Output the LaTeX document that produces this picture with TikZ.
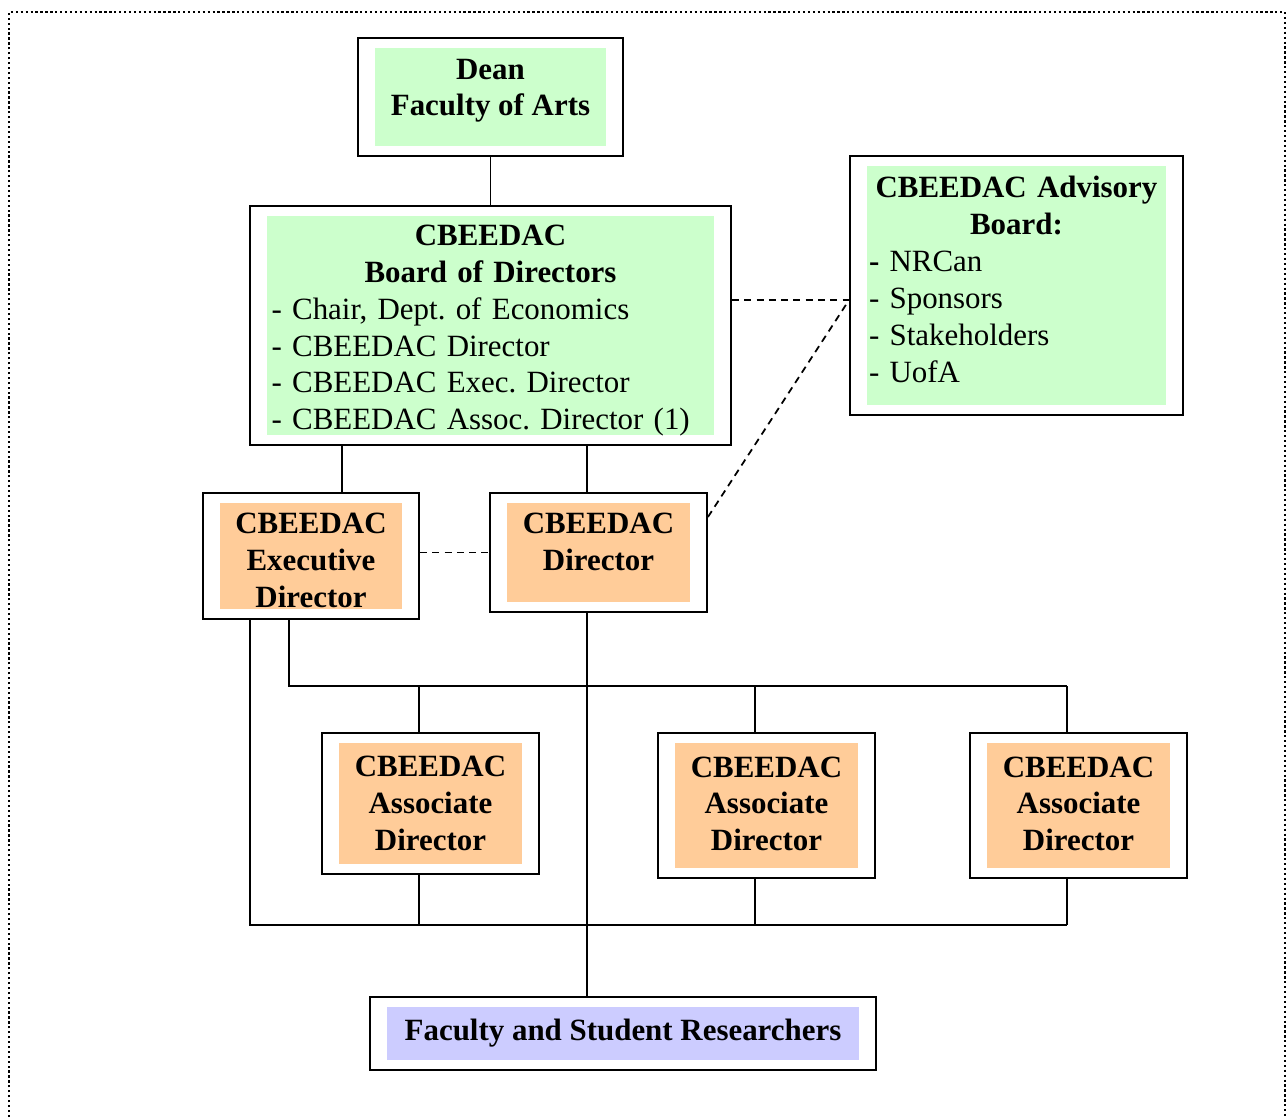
\documentclass[tikz,border=0pt]{standalone}
\usepackage{fontspec}
\setmainfont{Liberation Serif}
\usetikzlibrary{calc, positioning}
\definecolor{cgreen}{HTML}{CCFFCC}
\definecolor{corange}{HTML}{FFCC99}
\definecolor{cviolet}{HTML}{CCCCFF}
\frenchspacing
\newcommand{\lline}[1]{\makebox[\linewidth][l]{\mdseries #1}}
\newcommand{\dn}[1]{\rule[-#1]{0pt}{#1}}
\newcommand{\up}[1]{\rule{0pt}{#1}}

\begin{document}
\begin{tikzpicture}[x=0.02cm, y=-0.02cm,
    orgbox/.style={draw, line width=1.1pt, fill=white, align=center, inner sep=0pt,
        font=\fontsize{17.6}{21}\selectfont\bfseries,
        path picture={\fill[#1] ([shift={(0.34cm,-0.2cm)}]path picture bounding box.north west) rectangle ([shift={(-0.34cm,0.2cm)}]path picture bounding box.south east);}},
    link/.style={line width=1pt},
    dlink/.style={line width=1pt, dash pattern=on 4pt off 3pt}]
    \useasboundingbox (0,0) rectangle (1286,1117);
    \draw[line width=1.3pt, dash pattern=on 1.3pt off 1.5pt] (9,1117) -- (9,12) -- (1285,12) -- (1285,1117);
    % boxes
    \node (dean) [orgbox=cgreen, minimum width=5.3cm, minimum height=2.36cm] at (490.5,97) {Dean\\ Faculty of Arts\dn{11pt}};
    \node (board) [orgbox=cgreen, minimum width=9.62cm, minimum height=4.78cm, text width=8.76cm] at (490.5,325.5) {\up{17.5pt}CBEEDAC\\ Board of Directors\\
        \lline{- Chair, Dept. of Economics}\\ \lline{- CBEEDAC Director}\\ \lline{- CBEEDAC Exec. Director}\\ \lline{- CBEEDAC Assoc. Director (1)}};
    \node (advis) [orgbox=cgreen, minimum width=6.66cm, minimum height=5.18cm, text width=5.9cm] at (1016.5,285.5) {CBEEDAC Advisory\\ Board:\\
        \makebox[\linewidth][l]{- \mdseries NRCan}\\ \lline{- Sponsors}\\ \lline{- Stakeholders}\\ \lline{- UofA\dn{7pt}}};
    \node (exec) [orgbox=corange, minimum width=4.32cm, minimum height=2.52cm] at (311,556) {\up{16.5pt}CBEEDAC\\ Executive\\ Director};
    \node (dir) [orgbox=corange, minimum width=4.34cm, minimum height=2.38cm] at (598.5,552.5) {CBEEDAC\\ Director\dn{12.5pt}};
    \node (asc1) [orgbox=corange, minimum width=4.34cm, minimum height=2.82cm] at (430.5,803.5) {CBEEDAC\\ Associate\\ Director};
    \node (asc2) [orgbox=corange, minimum width=4.34cm, minimum height=2.9cm] at (766.5,805.5) {CBEEDAC\\ Associate\\ Director\dn{2pt}};
    \node (asc3) [orgbox=corange, minimum width=4.34cm, minimum height=2.9cm] at (1078.5,805.5) {CBEEDAC\\ Associate\\ Director\dn{2pt}};
    \node (fac) [orgbox=cviolet, minimum width=10.12cm, minimum height=1.46cm] at (623,1033.5) {Faculty and Student Researchers};
    % bus points
    \coordinate (bx1) at (342,0);
    \coordinate (bx2) at (587,0);
    \coordinate (ax) at (0,300);
    \coordinate (dx) at (0,517);
    \coordinate (e1) at (250,925);
    \coordinate (e2) at (289,686);
    \foreach \n/\x in {asc1/419, asc2/755, asc3/1067} {
        \coordinate (t\n) at (\x,686);
        \coordinate (b\n) at (\x,925);
    }
    % links
    \draw[link] (dean) -- (board);
    \draw[link] (board.south -| bx1) -- (exec.north -| bx1);
    \draw[link] (board.south -| bx2) -- (dir.north -| bx2);
    \draw[link] (dir.south -| bx2) -- (fac.north -| bx2);
    \draw[dlink] (board.east |- ax) -- (advis.west |- ax);
    \draw[dlink] (dir.east |- dx) -- (advis.west |- ax);
    \draw[dlink] (exec.east |- dir.west) -- (dir.west);
    \draw[link] (exec.south -| e1) -- (e1) -- (basc3);
    \draw[link] (exec.south -| e2) -- (e2) -- (tasc3);
    \foreach \n in {asc1, asc2, asc3} {
        \draw[link] (t\n) -- (\n.north -| t\n);
        \draw[link] (\n.south -| b\n) -- (b\n);
    }
\end{tikzpicture}
\end{document}
